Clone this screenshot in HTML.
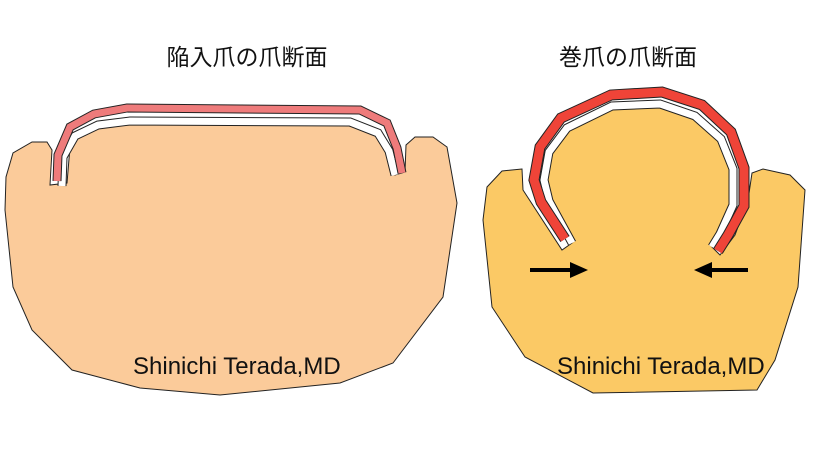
<!DOCTYPE html>
<html><head><meta charset="utf-8"><style>
html,body{margin:0;padding:0;background:#fff;width:820px;height:455px;overflow:hidden}
svg{display:block}
text{font-family:"Liberation Sans","Noto Sans CJK JP",sans-serif;fill:#111}
</style></head><body>
<svg width="820" height="455" viewBox="0 0 820 455">
<text x="247" y="65" font-size="23" text-anchor="middle">陥入爪の爪断面</text>
<text x="628" y="65" font-size="23" text-anchor="middle">巻爪の爪断面</text>

<!-- left body -->
<polygon points="50,185 52,150 47,142 32,142 13,153 6,177 5,210 13,287 32,330 72,370 140,388 220,395 340,383 393,363 443,297 457,203 447,147 433,137 415,137 406,145 405,172 395,175 383,140 367,128 340,125 100,125 80,133 70,147 67,183"
 fill="#FBCB9A" stroke="#222" stroke-width="1"/>
<polyline points="62,186 63,157 75,136 98,125 130,121 350,122 378,133 389,151 395,175" fill="none" stroke="#222" stroke-width="9"/>
<polyline points="62,186 63,157 75,136 98,125 130,121 350,122 378,133 389,151 395,175" fill="none" stroke="#fff" stroke-width="7"/>
<polyline points="57,181 58,155 70,127 94,114 127,108 360,110 387,123 397,148 402,173" fill="none" stroke="#222" stroke-width="9"/>
<polyline points="57,181 58,155 70,127 94,114 127,108 360,110 387,123 397,148 402,173" fill="none" stroke="#EE7B7B" stroke-width="7"/>
<text x="133" y="374" font-size="24">Shinichi Terada,MD</text>

<!-- right body -->
<polygon points="522,169 502,171 487,187 483,220 492,307 525,357 593,393 757,390 775,360 798,287 805,190 790,175 763,169 752,173 748,200 735,235 720,255 712,247 720,234 733,205 733,169 721,139 695,116 660,104 612,106 567,128 549,152 544,180 549,201 572,243 562,250 523,190"
 fill="#FBC965" stroke="#222" stroke-width="1"/>
<polyline points="572,243 549,201 544,180 549,152 567,128 612,106 660,104 695,116 721,139 733,169 733,205 720,234 712,247" fill="none" stroke="#222" stroke-width="9"/>
<polyline points="572,243 549,201 544,180 549,152 567,128 612,106 660,104 695,116 721,139 733,169 733,205 720,234 712,247" fill="none" stroke="#fff" stroke-width="7"/>
<polyline points="565,239 541,202 534,180 540,147 561,118 611,95 662,92 702,105 731,132 744,168 744,206 728,235 718,251" fill="none" stroke="#222" stroke-width="11"/>
<polyline points="565,239 541,202 534,180 540,147 561,118 611,95 662,92 702,105 731,132 744,168 744,206 728,235 718,251" fill="none" stroke="#EF4438" stroke-width="9"/>

<!-- arrows -->
<line x1="530" y1="270" x2="572" y2="270" stroke="#000" stroke-width="4"/>
<polygon points="570,262 588,270 570,278" fill="#000"/>
<line x1="748" y1="270" x2="710" y2="270" stroke="#000" stroke-width="4"/>
<polygon points="712,262 694,270 712,278" fill="#000"/>
<text x="557" y="374" font-size="24">Shinichi Terada,MD</text>
</svg>
</body></html>
